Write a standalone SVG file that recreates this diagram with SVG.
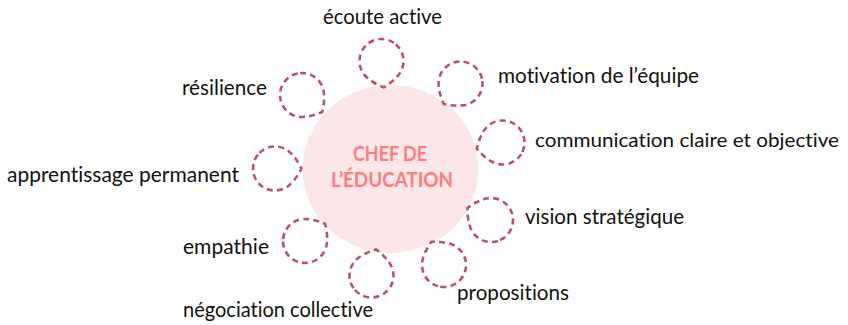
<svg xmlns="http://www.w3.org/2000/svg" width="848" height="325" viewBox="0 0 848 325">
  <defs>
    <style>
      .lbl { font-family: Lato, "Liberation Sans", sans-serif; font-size: 21.5px; fill: #111111; font-variant-ligatures: none; font-feature-settings: "liga" 0, "clig" 0; }
      .ctr { font-family: Lato, "Liberation Sans", sans-serif; font-size: 21px; font-weight: bold; fill: #ff7c80; text-anchor: middle; font-variant-ligatures: none; }
      .drop { fill: none; stroke: #b65566; stroke-width: 2.6; stroke-dasharray: 6 4.2; }
    </style>
    <path id="tear" d="M -22,0 A 22 22 0 0 1 0,-22 Q 9.33,-22 18.67,-18.67 Q 22,-9.33 22,0 A 22 22 0 0 1 0,22 A 22 22 0 0 1 -22,0 Z"/>
  </defs>
  <rect width="848" height="325" fill="#ffffff"/>

  <g id="center">
    <ellipse cx="390.5" cy="169" rx="88" ry="84" fill="#fde6e8"/>
    <text class="ctr" x="390" y="161" textLength="74" lengthAdjust="spacingAndGlyphs">CHEF DE</text>
    <text class="ctr" x="392" y="187" textLength="122" lengthAdjust="spacingAndGlyphs">L’ÉDUCATION</text>
  </g>

  <g id="ecoute">
    <use href="#tear" class="drop" transform="translate(381.5,61) rotate(130.5)"/>
    <text class="lbl" x="323" y="24" textLength="119" lengthAdjust="spacingAndGlyphs">écoute active</text>
  </g>
  <g id="motivation">
    <use href="#tear" class="drop" transform="translate(460.5,83.5) rotate(174)"/>
    <text class="lbl" x="498" y="83" textLength="201" lengthAdjust="spacingAndGlyphs">motivation de l’équipe</text>
  </g>
  <g id="resilience">
    <use href="#tear" class="drop" transform="translate(302,95) rotate(85)"/>
    <text class="lbl" x="182" y="95" textLength="85" lengthAdjust="spacingAndGlyphs">résilience</text>
  </g>
  <g id="communication">
    <use href="#tear" class="drop" transform="translate(502.5,142.5) rotate(211.7)"/>
    <text class="lbl" x="535" y="147" style="font-size:20px" textLength="304" lengthAdjust="spacingAndGlyphs">communication claire et objective</text>
  </g>
  <g id="apprentissage">
    <use href="#tear" class="drop" transform="translate(275,168.5) rotate(45)"/>
    <text class="lbl" x="7" y="182" textLength="232" lengthAdjust="spacingAndGlyphs">apprentissage permanent</text>
  </g>
  <g id="vision">
    <use href="#tear" class="drop" transform="translate(491,220) rotate(251.8)"/>
    <text class="lbl" x="525" y="224" textLength="159" lengthAdjust="spacingAndGlyphs">vision stratégique</text>
  </g>
  <g id="empathie">
    <use href="#tear" class="drop" transform="translate(305,241) rotate(5)"/>
    <text class="lbl" x="183" y="254" textLength="86" lengthAdjust="spacingAndGlyphs">empathie</text>
  </g>
  <g id="negociation">
    <use href="#tear" class="drop" transform="translate(371.5,275.5) rotate(-35)"/>
    <text class="lbl" x="183" y="317" textLength="190" lengthAdjust="spacingAndGlyphs">négociation collective</text>
  </g>
  <g id="propositions">
    <use href="#tear" class="drop" transform="translate(444,265) rotate(-74)"/>
    <text class="lbl" x="457" y="300" textLength="112" lengthAdjust="spacingAndGlyphs">propositions</text>
  </g>

  <g id="connectors"></g>
</svg>
